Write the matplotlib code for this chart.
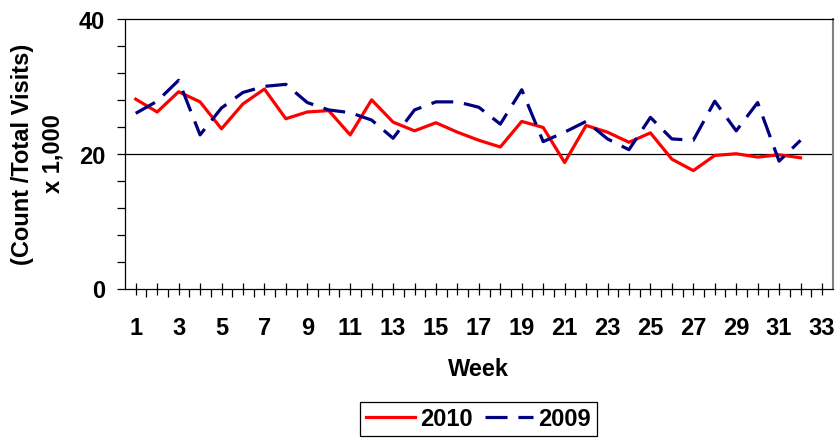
import matplotlib
matplotlib.use('Agg')
import matplotlib.pyplot as plt
import numpy as np

plt.rcParams['font.family'] = ['Liberation Sans', 'DejaVu Sans']
plt.rcParams['font.weight'] = 'bold'

# Weekly rate, (count / total visits) x 1,000
weeks_2010 = list(range(1, 33))
rate_2010 = [28.1, 26.2, 29.2, 27.7, 23.7, 27.4, 29.6, 25.2, 26.2, 26.4, 22.8, 28.0,
             24.7, 23.4, 24.6, 23.2, 22.0, 21.0, 24.8, 23.9, 18.7, 24.2, 23.2, 21.7,
             23.1, 19.2, 17.5, 19.75, 20.0, 19.5, 19.85, 19.4]
weeks_2009 = list(range(1, 33))
rate_2009 = [26.0, 27.8, 30.9, 22.8, 26.8, 29.1, 30.0, 30.3, 27.6, 26.5, 26.1, 25.0,
             22.3, 26.5, 27.7, 27.7, 26.9, 24.4, 29.5, 21.8, 23.2, 24.8, 22.2, 20.6,
             25.4, 22.2, 22.0, 27.8, 23.4, 27.6, 18.9, 22.0]
week_labels = list(range(1, 34, 2))
n_weeks = 33

FS = 17
W, H = 838, 439
fig = plt.figure(figsize=(W / 100, H / 100), dpi=100)
ax = fig.add_axes([125 / W, 1 - 289.5 / H, 707.7 / W, 269.5 / H])

ax.plot(weeks_2010, rate_2010, color='#FF0000', lw=2.3, label='2010', zorder=3)
ax.plot(weeks_2009, rate_2009, color='#000080', lw=2.3, dashes=(6.9, 3.4),
        label='2009', zorder=4)

ax.set_xlim(0.5, n_weeks + 0.5)
ax.set_ylim(0, 40)
ax.axhline(20, color='black', lw=0.9, zorder=1)

# y axis
ax.set_yticks([0, 20, 40])
ax.set_yticks(np.arange(4, 40, 4), minor=True)
ax.tick_params(axis='y', which='both', direction='out', length=5.8, width=0.9,
               pad=8.6, labelsize=FS)

# x axis: major ticks at week centres, minor ticks between
ax.set_xticks(range(1, n_weeks + 1))
ax.set_xticklabels([str(w) if w in week_labels else '' for w in range(1, n_weeks + 1)])
ax.set_xticks(np.arange(1.5, n_weeks, 1), minor=True)
ax.tick_params(axis='x', which='major', direction='inout', length=8, width=0.9,
               pad=16, labelsize=FS)
ax.tick_params(axis='x', which='minor', direction='out', length=5.8, width=0.9)

for lbl in ax.get_xticklabels() + ax.get_yticklabels():
    lbl.set_fontweight('bold')

for s in ['left', 'bottom', 'top']:
    ax.spines[s].set_color('black')
    ax.spines[s].set_linewidth(0.9)
ax.spines['right'].set_color('#808080')
ax.spines['right'].set_linewidth(1.5)

fig.text(22 / W, 1 - 154 / H, '(Count /Total Visits)', rotation=90, ha='center',
         va='center', fontsize=FS, fontweight='bold')
fig.text(53 / W, 1 - 154 / H, 'x 1,000', rotation=90, ha='center', va='center',
         fontsize=FS, fontweight='bold')
fig.text(478 / W, 1 - 369.5 / H, 'Week', ha='center', va='center',
         fontsize=FS, fontweight='bold')

leg = fig.legend(loc='center', bbox_to_anchor=(478.5 / W, 1 - 420 / H), ncol=2,
                 fancybox=False, framealpha=1, edgecolor='black',
                 prop={'size': FS, 'weight': 'bold'}, handlelength=2.05,
                 handletextpad=0.22, columnspacing=0.52, borderpad=0.25,
                 borderaxespad=0)
leg.get_frame().set_linewidth(0.9)

fig.savefig('out.png', dpi=100)
